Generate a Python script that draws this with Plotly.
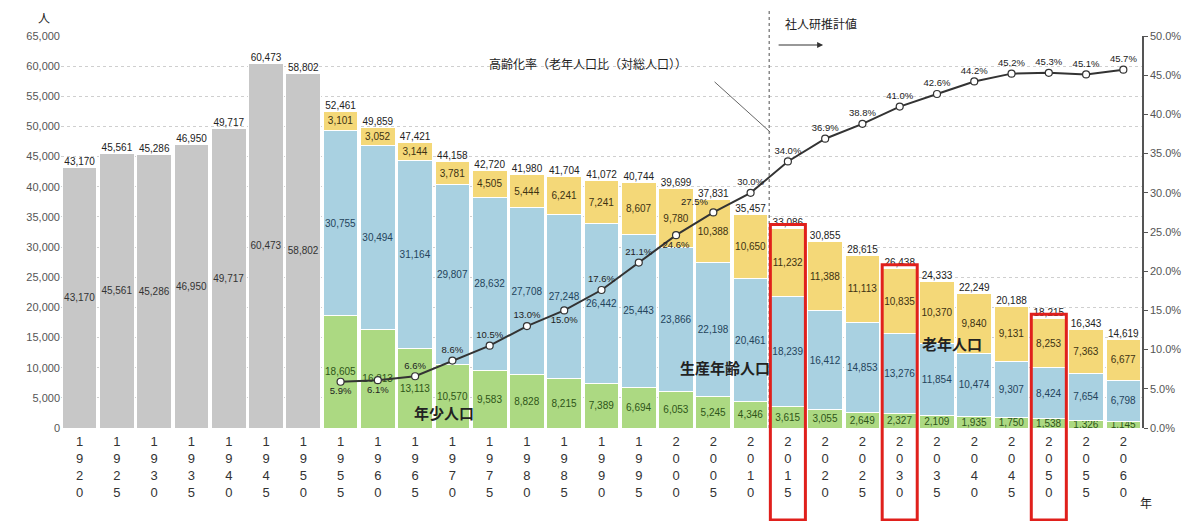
"""Population projection chart: stacked bars by age group with aging-rate line."""

import plotly.graph_objects as go


YEARS = [str(y) for y in range(1920, 2065, 5)]

TOTALS = [
    43170, 45561, 45286, 46950, 49717, 60473, 58802,
    52461, 49859, 47421, 44158, 42720, 41980, 41704, 41072, 40744,
    39699, 37831, 35457, 33086, 30855, 28615, 26438, 24333, 22249,
    20188, 18215, 16343, 14619,
]

# age breakdown starts in 1955
YOUNG = [18605, 16313, 13113, 10570, 9583, 8828, 8215, 7389, 6694, 6053, 5245,
         4346, 3615, 3055, 2649, 2327, 2109, 1935, 1750, 1538, 1326, 1145]
WORKING = [30755, 30494, 31164, 29807, 28632, 27708, 27248, 26442, 25443, 23866,
           22198, 20461, 18239, 16412, 14853, 13276, 11854, 10474, 9307, 8424,
           7654, 6798]
ELDERLY = [3101, 3052, 3144, 3781, 4505, 5444, 6241, 7241, 8607, 9780, 10388,
           10650, 11232, 11388, 11113, 10835, 10370, 9840, 9131, 8253, 7363, 6677]
AGING_RATE = [5.9, 6.1, 6.6, 8.6, 10.5, 13.0, 15.0, 17.6, 21.1, 24.6, 27.5,
              30.0, 34.0, 36.9, 38.8, 41.0, 42.6, 44.2, 45.2, 45.3, 45.1, 45.7]

HIGHLIGHT_YEARS = ["2015", "2030", "2050"]

N_OLD = len(YEARS) - len(YOUNG)
YMAX = 65000
FONT = "Liberation Sans, Noto Sans CJK JP, sans-serif"
JP_FONT = "Noto Sans CJK JP, sans-serif"


def pad(values):
    return [None] * N_OLD + list(values)


def fmt(values):
    return ["" if v is None else f"{v:,}" for v in values]


fig = go.Figure()

gray = TOTALS[:N_OLD] + [None] * len(YOUNG)
stack = [
    ("total", gray, "#c7c7c7", "#333333"),
    ("young", pad(YOUNG), "#acd982", "#2e5518"),
    ("working", pad(WORKING), "#a9d1e1", "#24445c"),
    ("elderly", pad(ELDERLY), "#f4d878", "#3d3212"),
]
for name, vals, color, tcolor in stack:
    fig.add_trace(go.Bar(
        x=YEARS, y=vals, name=name,
        marker=dict(color=color, line=dict(color="white", width=1)),
        text=fmt(vals), textposition="inside", insidetextanchor="middle",
        textangle=0, insidetextfont=dict(size=10, color=tcolor, family=FONT),
        hoverinfo="skip",
    ))

# totals above each bar
fig.add_trace(go.Scatter(
    x=YEARS, y=TOTALS, mode="text", text=fmt(TOTALS),
    textposition="top center",
    textfont=dict(size=10, color="#222222", family=FONT),
    hoverinfo="skip", cliponaxis=False,
))

# aging rate line
pos = ["top center"] * len(AGING_RATE)
for i in (0, 1, 6, 9):
    pos[i] = "bottom center"
pos[10] = "top left"
fig.add_trace(go.Scatter(
    x=YEARS[N_OLD:], y=[r / 100 for r in AGING_RATE], yaxis="y2",
    mode="lines+markers+text", text=[f"{r:.1f}%" for r in AGING_RATE],
    textposition=pos, textfont=dict(size=9.5, color="#222222", family=FONT),
    line=dict(color="#333333", width=2),
    marker=dict(symbol="circle", size=7, color="white",
                line=dict(color="#333333", width=1.2)),
    cliponaxis=False, hoverinfo="skip",
))

shapes = [
    dict(type="line", xref="x", yref="paper", x0=18.5, x1=18.5, y0=0, y1=1.079,
         line=dict(color="#8a8a8a", width=1.5, dash="dot")),
    dict(type="line", xref="paper", yref="paper", x0=0.6046, y0=0.883,
         x1=0.656, y1=0.755, line=dict(color="#666666", width=1)),
]
for yr in HIGHLIGHT_YEARS:
    i = YEARS.index(yr)
    shapes.append(dict(
        type="rect", xref="x", yref="paper",
        x0=i - 0.47, x1=i + 0.47, y0=-0.235, y1=TOTALS[i] / YMAX + 0.01,
        line=dict(color="#e0201c", width=3), fillcolor="rgba(0,0,0,0)",
    ))

annotations = [
    dict(text="人", x=-0.0157, y=1.048, font=dict(size=12, family=JP_FONT)),
    dict(text="年", x=1.0037, y=-0.191, font=dict(size=12, family=JP_FONT)),
    dict(text="社人研推計値", x=0.703, y=1.033, font=dict(size=12, family=JP_FONT)),
    dict(text="高齢化率（老年人口比（対総人口））", x=0.4876, y=0.931,
         font=dict(size=12, family=JP_FONT)),
    dict(text="<b>年少人口</b>", x=0.3539, y=0.040, font=dict(size=15, family=JP_FONT)),
    dict(text="<b>生産年齢人口</b>", x=0.6147, y=0.1556,
         font=dict(size=15, family=JP_FONT)),
    dict(text="<b>老年人口</b>", x=0.824, y=0.2168, font=dict(size=15, family=JP_FONT)),
]
for a in annotations:
    a.update(xref="paper", yref="paper", showarrow=False,
             xanchor="center", yanchor="middle")
    a["font"]["color"] = "#222222"
annotations.append(dict(
    xref="paper", yref="paper", x=0.705, y=0.977, ax=-46, ay=0, text="",
    showarrow=True, arrowhead=2, arrowsize=1, arrowwidth=1.2, arrowcolor="#333333",
))

# page body adds an 8px offset, so the figure is 8px smaller than the window
fig.update_layout(
    width=1185, height=513,
    margin=dict(l=53, r=47, t=28, b=93),
    barmode="stack", bargap=0.07,
    showlegend=False,
    plot_bgcolor="white", paper_bgcolor="white",
    font=dict(family=FONT, color="#444444"),
    uniformtext=dict(minsize=10, mode="show"),
    shapes=shapes, annotations=annotations,
    xaxis=dict(
        type="category", range=[-0.5, len(YEARS) - 0.5], tickvals=YEARS,
        ticktext=["<br>".join(y) for y in YEARS], ticklabelstandoff=4,
        tickfont=dict(size=13, color="#333333"), showgrid=False, ticks="",
        showline=False,
    ),
    yaxis=dict(
        range=[0, YMAX], dtick=5000, tickformat=",", showgrid=True,
        gridcolor="#cfcfcf", griddash="dot", zeroline=False, showline=False,
        tickfont=dict(size=11, color="#555555"),
    ),
    yaxis2=dict(
        overlaying="y", side="right", range=[0, 0.5], dtick=0.05,
        tickformat=".1%", showgrid=False, zeroline=False,
        showline=True, linecolor="#555555", linewidth=1.5,
        ticks="outside", ticklen=4, tickcolor="#555555",
        tickfont=dict(size=11, color="#555555"),
    ),
)

fig.write_html("out.html")
